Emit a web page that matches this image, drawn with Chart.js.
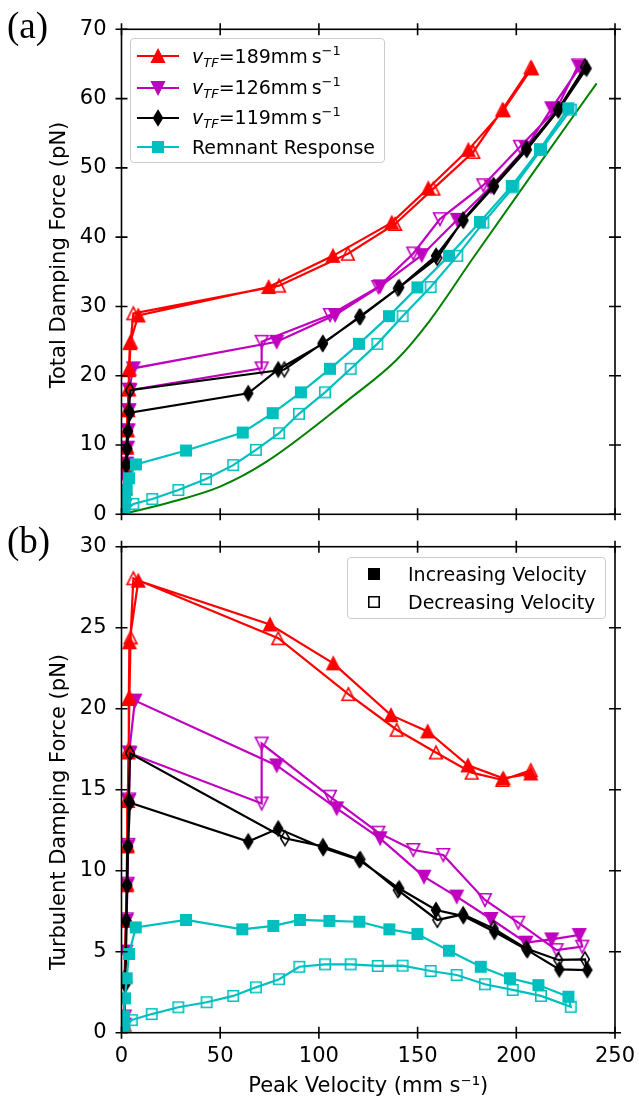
<!DOCTYPE html>
<html><head><meta charset="utf-8">
<script src="https://cdn.jsdelivr.net/npm/chart.js@4.4.0/dist/chart.umd.min.js"></script>
<style>
html,body{margin:0;padding:0;background:#fff;}
#wrap{position:relative;width:639px;height:1104px;overflow:hidden;font-family:"DejaVu Sans",sans-serif;color:#000;}
canvas{position:absolute;left:0;}
#c1{top:0;}
#c2{top:530px;}
.plabel{position:absolute;font-family:"Liberation Serif",serif;font-size:37px;line-height:1;}
.ytitle{position:absolute;font-size:21px;white-space:nowrap;transform:translate(-50%,-50%) rotate(-90deg);line-height:1;}
.legend{position:absolute;background:rgba(255,255,255,0.85);border:1px solid #cccccc;border-radius:4px;box-sizing:border-box;}
.row{position:absolute;left:0;height:24px;display:flex;align-items:center;font-size:19px;white-space:nowrap;}
.row svg{position:absolute;}
.row span{position:absolute;}
sub{font-size:13px;vertical-align:-4px;}
sup{font-size:13px;vertical-align:8px;}
</style></head>
<body><div id="wrap">
<canvas id="c1" width="639" height="530"></canvas>
<canvas id="c2" width="639" height="574"></canvas>
<div class="plabel" style="left:7px;top:7px;">(a)</div>
<div class="plabel" style="left:7px;top:522px;">(b)</div>
<div class="ytitle" style="left:58px;top:255px;">Total Damping Force (pN)</div>
<div class="ytitle" style="left:58px;top:812px;">Turbulent Damping Force (pN)</div>
<div class="legend" id="leg1" style="left:130px;top:38px;width:255px;height:125px;"></div>
<div class="legend" id="leg2" style="left:347px;top:557px;width:259px;height:62px;"></div>
</div>
<script>
// ---------------- data: panel (a) total damping force ----------------
const xTicks = [0, 50, 100, 150, 200, 250];
const yTicksA = [0, 10, 20, 30, 40, 50, 60, 70];
const yTicksB = [0, 5, 10, 15, 20, 25, 30];

const a189IncX = [1.5, 1.9, 2.3, 2.6, 2.9, 3.2, 3.5, 3.7, 4.3, 8.5, 74.5, 107.1, 136.9, 155.4, 175.7, 193.4, 207.8];
const a189IncY = [0.5, 3.8, 7.3, 9.6, 12.1, 15.0, 18.0, 20.8, 24.7, 28.7, 32.8, 37.3, 42.1, 47.05, 52.6, 58.3, 64.35];
const a189DecX = [207.3, 193, 178.2, 158, 138.6, 114.7, 79.8, 6.0, 4.6, 4.0, 3.6, 3.2, 2.9, 2.6, 2.2, 1.6];
const a189DecY = [64.5, 58.4, 52.3, 47.0, 41.9, 37.6, 33.0, 29.0, 24.9, 21.0, 18.1, 15.1, 12.2, 9.8, 7.5, 3.8];

const a126IncX = [1.5, 1.9, 2.3, 2.7, 3.1, 3.5, 3.9, 6.0, 78.6, 108.2, 131, 152.1, 170.1, 187.2, 204.9, 217.9, 232.3];
const a126IncY = [0.5, 5.3, 7.3, 9.6, 12.1, 15.0, 18.0, 21.07, 24.9, 28.76, 32.9, 37.4, 42.5, 47.3, 52.9, 58.6, 64.6];
const a126DecX = [231.4, 220.4, 201.9, 183.3, 161.3, 147.8, 130.1, 105.6, 71, 71, 4.3, 3.8, 3.4, 3.0, 2.6, 2.2, 1.6];
const a126DecY = [64.8, 58.5, 53.05, 47.5, 42.6, 37.65, 32.8, 28.76, 24.9, 21.07, 17.9, 15.0, 12.1, 9.6, 7.3, 5.3, 1.2];

const a119IncX = [1.5, 2.0, 2.5, 2.9, 3.3, 4.3, 64.2, 79.4, 101.9, 120.5, 140.7, 159.3, 173.2, 188.7, 205.3, 221.3, 235.6];
const a119IncY = [0.5, 3.5, 7.2, 9.5, 12.0, 14.66, 17.46, 20.9, 24.6, 28.5, 32.75, 37.3, 42.4, 47.3, 52.6, 58.3, 64.35];
const a119DecX = [234.8, 221.3, 205, 188.4, 173, 160, 140, 121, 102, 82.5, 4.3, 3.7, 3.2, 2.8, 2.4, 1.8];
const a119DecY = [64.6, 58.5, 52.8, 47.5, 42.5, 37.0, 32.6, 28.5, 24.7, 20.9, 17.9, 14.9, 12.0, 9.4, 7.1, 3.0];

const aRemIncX = [0.8, 1.2, 1.8, 2.6, 3.8, 7.3, 32.7, 61.4, 76.6, 90.9, 105.6, 120.3, 135.5, 149.9, 165.9, 181.6, 197.7, 212, 226.4];
const aRemIncY = [0.3, 1.0, 2.2, 3.5, 5.2, 7.2, 9.2, 11.8, 14.6, 17.6, 21.0, 24.6, 28.6, 32.75, 37.3, 42.2, 47.4, 52.7, 58.6];
const aRemDecX = [227.6, 212.5, 198.5, 183.3, 170.1, 156.6, 142.4, 129.6, 116.1, 103.1, 89.9, 79.8, 68.1, 56.6, 42.8, 28.8, 15.6, 6.0, 1.5];
const aRemDecY = [58.4, 52.6, 47.2, 42.1, 37.3, 32.8, 28.6, 24.6, 21.0, 17.6, 14.5, 11.7, 9.3, 7.1, 5.1, 3.5, 2.2, 1.5, 0.3];

const aGreenX = [0, 22.9, 49.9, 73.5, 115.7, 139.4, 156.3, 177.4, 210, 240.7];
const aGreenY = [0, 1.6, 4.0, 7.6, 16.7, 22.3, 28.0, 36.7, 49.9, 62.2];

// ---------------- data: panel (b) turbulent damping force ----------------
const b189IncX = [1.5, 1.9, 2.3, 2.6, 2.9, 3.2, 3.5, 3.7, 4.0, 8.5, 75.2, 107.3, 136.5, 155.1, 175.5, 193.4, 207.3];
const b189IncY = [0.5, 3.5, 6.9, 9.1, 11.5, 14.3, 17.3, 20.6, 24.1, 27.9, 25.2, 22.8, 19.6, 18.6, 16.5, 15.7, 16.0];
const b189DecX = [207.3, 193, 177.4, 159.3, 139.4, 114.9, 79.4, 6.0, 4.6, 4.0, 3.6, 3.2, 2.9, 2.6, 2.2, 1.6];
const b189DecY = [16.2, 15.6, 16.05, 17.3, 18.7, 20.9, 24.35, 28.05, 24.4, 20.7, 17.5, 14.5, 11.6, 9.2, 7.0, 3.5];

const b126IncX = [1.5, 1.9, 2.3, 2.7, 3.1, 3.5, 3.9, 6.8, 78.6, 109, 131, 153.2, 169.8, 187.2, 204.9, 217.9, 231.9];
const b126IncY = [0.5, 5.0, 6.9, 9.1, 11.5, 14.3, 17.3, 20.5, 16.5, 13.85, 12.0, 9.63, 8.4, 7.02, 5.56, 5.76, 6.03];
const b126DecX = [233.4, 220.4, 201, 184.1, 163, 147.8, 130.1, 105.6, 71, 71, 4.3, 3.8, 3.4, 3.0, 2.6, 2.2, 1.6];
const b126DecY = [5.31, 5.1, 6.79, 8.19, 10.97, 11.28, 12.35, 14.57, 17.85, 14.15, 17.25, 14.4, 11.6, 9.2, 7.0, 5.0, 1.0];

const b119IncX = [1.5, 2.0, 2.5, 2.9, 3.3, 4.3, 64.2, 79.4, 102.2, 120.5, 140.7, 159.3, 173.2, 188.9, 205.6, 221.8, 236];
const b119IncY = [0.5, 3.0, 6.9, 9.1, 11.5, 14.2, 11.8, 12.6, 11.4, 10.66, 8.9, 7.57, 7.2, 6.23, 5.1, 3.91, 3.87];
const b119DecX = [234.8, 221.3, 205, 188.4, 173, 160, 140, 121, 102, 82.8, 4.3, 3.7, 3.2, 2.8, 2.4, 1.8];
const b119DecY = [4.53, 4.49, 5.2, 6.44, 7.3, 6.96, 8.8, 10.7, 11.5, 12.0, 17.25, 14.3, 11.5, 9.1, 6.9, 3.0];

const bRemIncX = [0.8, 1.2, 1.8, 2.6, 3.8, 7.2, 32.7, 61.2, 76.9, 90.4, 105.3, 120.5, 135.7, 149.9, 165.9, 182, 196.8, 211.2, 226.4];
const bRemIncY = [0.3, 1.0, 2.12, 3.36, 4.86, 6.5, 6.96, 6.38, 6.59, 6.96, 6.9, 6.85, 6.38, 6.09, 5.06, 4.07, 3.36, 2.94, 2.22];
const bRemDecX = [227.6, 212.5, 198.2, 184.1, 169.8, 156.6, 142.4, 129.8, 116.1, 103.1, 90.1, 79.8, 68.1, 56.6, 43.1, 28.8, 15.3, 5.2, 1.5];
const bRemDecY = [1.6, 2.27, 2.64, 2.99, 3.56, 3.81, 4.14, 4.12, 4.22, 4.22, 4.07, 3.3, 2.8, 2.27, 1.88, 1.57, 1.15, 0.78, 0.3];

const seriesLabels = ['v_TF=189mm s^-1', 'v_TF=126mm s^-1', 'v_TF=119mm s^-1', 'Remnant Response'];

// ---------------- styling ----------------
const C = {r: '#ff0000', m: '#bf00bf', k: '#000000', c: '#00bfbf', g: '#008000'};
const FONT = 'DejaVu Sans';

function shapePath(g, shape) {
  g.beginPath();
  if (shape === 'up') { g.moveTo(0, -6.3); g.lineTo(6.3, 6.3); g.lineTo(-6.3, 6.3); }
  else if (shape === 'down') { g.moveTo(0, 6.3); g.lineTo(6.3, -6.3); g.lineTo(-6.3, -6.3); }
  else if (shape === 'square') { g.rect(-5.2, -5.2, 10.4, 10.4); }
  else if (shape === 'diamond') { g.moveTo(0, -7.3); g.lineTo(4.4, 0); g.lineTo(0, 7.3); g.lineTo(-4.4, 0); }
  g.closePath();
}
const markerCache = {};
function marker(shape, color, filled) {
  const key = shape + color + filled;
  if (markerCache[key]) return markerCache[key];
  const s = 20, c = document.createElement('canvas');
  c.width = s; c.height = s;
  const g = c.getContext('2d');
  g.translate(s / 2, s / 2);
  shapePath(g, shape);
  if (filled) { g.fillStyle = color; g.fill(); }
  g.lineWidth = 1.6; g.strokeStyle = color; g.lineJoin = 'miter'; g.stroke();
  markerCache[key] = c;
  return c;
}
function ds(label, color, shape, incX, incY, decX, decY) {
  const data = [], styles = [];
  incX.forEach((x, i) => { data.push({x: x, y: incY[i]}); styles.push(marker(shape, color, true)); });
  decX.forEach((x, i) => { data.push({x: x, y: decY[i]}); styles.push(marker(shape, color, false)); });
  return {label, data, borderColor: color, backgroundColor: color, borderWidth: 2.2, pointStyle: styles,
          pointRadius: 6, pointHoverRadius: 6, showLine: true, tension: 0, clip: 0};
}

const framePlugin = {
  id: 'frame',
  afterDatasetsDraw(chart, args, opts) {
    const {ctx, chartArea: a, scales: {x, y}} = chart;
    ctx.save();
    ctx.strokeStyle = '#000'; ctx.lineWidth = 1.6;
    ctx.strokeRect(a.left, a.top, a.right - a.left, a.bottom - a.top);
    ctx.beginPath();
    xTicks.forEach(v => {
      const px = x.getPixelForValue(v);
      ctx.moveTo(px, a.bottom - 6); ctx.lineTo(px, a.bottom + 6);
      ctx.moveTo(px, a.top - 6); ctx.lineTo(px, a.top + 6);
    });
    opts.yt.forEach(v => {
      const py = y.getPixelForValue(v);
      ctx.moveTo(a.left - 6, py); ctx.lineTo(a.left + 6, py);
      ctx.moveTo(a.right - 6, py); ctx.lineTo(a.right + 6, py);
    });
    ctx.stroke();
    ctx.restore();
  }
};

function zeroPad(s) { s.paddingTop = 0; s.paddingBottom = 0; s.paddingLeft = 0; s.paddingRight = 0; }

function yScale(max, step) {
  return {type: 'linear', min: 0, max: max,
    ticks: {stepSize: step, font: {family: FONT, size: 21}, color: '#000', padding: 15},
    grid: {display: false, drawTicks: false}, border: {display: false},
    afterFit(s) { s.width = 121.5; zeroPad(s); }};
}

// ---------------- panel (a) ----------------
new Chart(document.getElementById('c1'), {
  type: 'scatter',
  data: {datasets: [
    ds(seriesLabels[3], C.c, 'square', aRemIncX, aRemIncY, aRemDecX, aRemDecY),
    ds(seriesLabels[2], C.k, 'diamond', a119IncX, a119IncY, a119DecX, a119DecY),
    ds(seriesLabels[0], C.r, 'up', a189IncX, a189IncY, a189DecX, a189DecY),
    ds(seriesLabels[1], C.m, 'down', a126IncX, a126IncY, a126DecX, a126DecY),
    {label: 'laminar', data: aGreenX.map((x, i) => ({x: x, y: aGreenY[i]})), borderColor: C.g, borderWidth: 2,
     pointRadius: 0, showLine: true, cubicInterpolationMode: 'monotone', clip: 0}
  ]},
  options: {
    responsive: false, animation: false, devicePixelRatio: 1,
    layout: {padding: {left: 0, right: 24, top: 29.3, bottom: 15.7}},
    plugins: {legend: {display: false}, tooltip: {enabled: false}, frame: {yt: yTicksA}},
    scales: {
      x: {type: 'linear', min: 0, max: 250, display: false, ticks: {display: false},
          afterFit(s) { s.height = 0; zeroPad(s); }},
      y: yScale(70, 10)
    }
  },
  plugins: [framePlugin]
});

// ---------------- panel (b) ----------------
new Chart(document.getElementById('c2'), {
  type: 'scatter',
  data: {datasets: [
    ds(seriesLabels[3], C.c, 'square', bRemIncX, bRemIncY, bRemDecX, bRemDecY),
    ds(seriesLabels[2], C.k, 'diamond', b119IncX, b119IncY, b119DecX, b119DecY),
    ds(seriesLabels[0], C.r, 'up', b189IncX, b189IncY, b189DecX, b189DecY),
    ds(seriesLabels[1], C.m, 'down', b126IncX, b126IncY, b126DecX, b126DecY)
  ]},
  options: {
    responsive: false, animation: false, devicePixelRatio: 1,
    layout: {padding: {left: 0, right: 24, top: 16.7, bottom: 0}},
    plugins: {legend: {display: false}, tooltip: {enabled: false}, frame: {yt: yTicksB}},
    scales: {
      x: {type: 'linear', min: 0, max: 250,
          ticks: {stepSize: 50, font: {family: FONT, size: 21}, color: '#000', padding: 11, maxRotation: 0},
          grid: {display: false, drawTicks: false}, border: {display: false},
          title: {display: true, text: 'Peak Velocity (mm s\u207B\u00B9)', font: {family: FONT, size: 21}, color: '#000',
                  padding: {top: 0, bottom: 5}},
          afterFit(s) { s.height = 71.3; zeroPad(s); }},
      y: yScale(30, 5)
    }
  },
  plugins: [framePlugin]
});

// ---------------- legends (HTML) ----------------
function svgMarker(shape, color, filled, cx, cy) {
  const pts = {
    up: [[0, -6.3], [6.3, 6.3], [-6.3, 6.3]],
    down: [[0, 6.3], [6.3, -6.3], [-6.3, -6.3]],
    square: [[-5.2, -5.2], [5.2, -5.2], [5.2, 5.2], [-5.2, 5.2]],
    diamond: [[0, -7.3], [4.4, 0], [0, 7.3], [-4.4, 0]]
  }[shape].map(p => (cx + p[0]) + ',' + (cy + p[1])).join(' ');
  return '<polygon points="' + pts + '" fill="' + (filled ? color : 'none') + '" stroke="' + color + '" stroke-width="1.6"/>';
}
const leg1 = document.getElementById('leg1');
const legItems = [
  [C.r, 'up', '189'], [C.m, 'down', '126'], [C.k, 'diamond', '119'], [C.c, 'square', null]
];
const rowYs1 = [17, 48.5, 78.5, 108];
legItems.forEach((it, i) => {
  const row = document.createElement('div');
  row.className = 'row';
  row.style.top = (rowYs1[i] - 12) + 'px';
  row.style.width = '250px';
  const txt = it[2] ? '<i>v</i><sub><i>TF</i></sub>=' + it[2] + 'mm\u2009s<sup>\u22121</sup>' : 'Remnant Response';
  row.innerHTML = '<svg width="44" height="24" style="left:6px;top:0"><line x1="0" y1="12" x2="42" y2="12" stroke="' + it[0] + '" stroke-width="2.2"/>' +
    svgMarker(it[1], it[0], true, 21, 12) + '</svg><span style="left:61px;">' + txt + '</span>';
  leg1.appendChild(row);
});
const leg2 = document.getElementById('leg2');
[['Increasing Velocity', true, 15.5], ['Decreasing Velocity', false, 44]].forEach(it => {
  const row = document.createElement('div');
  row.className = 'row';
  row.style.top = (it[2] - 12) + 'px';
  row.style.width = '255px';
  row.innerHTML = '<svg width="24" height="24" style="left:14px;top:0">' + svgMarker('square', '#000', it[1], 12, 12) +
    '</svg><span style="left:60px;">' + it[0] + '</span>';
  leg2.appendChild(row);
});
</script>
</body></html>
